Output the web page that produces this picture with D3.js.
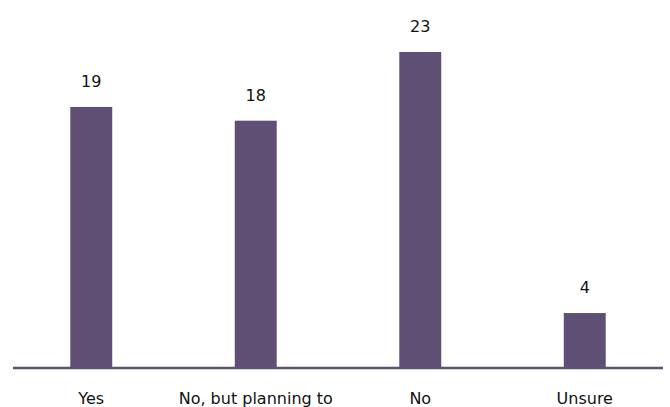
<!DOCTYPE html>
<html>
<head>
<meta charset="utf-8">
<script src="https://cdn.jsdelivr.net/npm/d3@7"></script>
<style>
  html, body { margin: 0; padding: 0; background: #ffffff; }
  svg { display: block; }
  text { font-family: "DejaVu Sans", sans-serif; fill: #111111; }
</style>
</head>
<body>
<script>
// Survey responses
const categories = ["Yes", "No, but planning to", "No", "Unsure"];
const counts = [19, 18, 23, 4];

const width = 670, height = 407;
const barColor = "#5f4f74";

const svg = d3.select("body").append("svg")
  .attr("width", width)
  .attr("height", height);

const x = d3.scaleBand()
  .domain(categories)
  .range([9, 667])
  .paddingInner(0.745)
  .paddingOuter(0.3725);

const y = d3.scaleLinear()
  .domain([0, 25])
  .range([368, 24.5]);

const data = categories.map((c, i) => ({ category: c, value: counts[i] }));

// Bars
svg.append("g")
  .selectAll("rect")
  .data(data)
  .join("rect")
  .attr("x", d => x(d.category))
  .attr("y", d => y(d.value))
  .attr("width", x.bandwidth())
  .attr("height", d => y(0) - y(d.value))
  .attr("fill", barColor);

// Value labels above bars
svg.append("g")
  .selectAll("text")
  .data(data)
  .join("text")
  .attr("x", d => x(d.category) + x.bandwidth() / 2)
  .attr("y", d => y(d.value) - 20)
  .attr("text-anchor", "middle")
  .attr("font-size", 16)
  .text(d => d.value);

// Baseline
svg.append("line")
  .attr("x1", 13)
  .attr("x2", 663)
  .attr("y1", y(0))
  .attr("y2", y(0))
  .attr("stroke", barColor)
  .attr("stroke-width", 2.5);

// Category axis
const axis = d3.axisBottom(x).tickSize(0).tickPadding(0);
const gx = svg.append("g")
  .attr("transform", `translate(0,${y(0)})`)
  .call(axis);
gx.select(".domain").remove();
gx.selectAll(".tick text")
  .attr("y", 36)
  .attr("dy", 0)
  .attr("font-size", 16)
  .attr("font-family", "DejaVu Sans, sans-serif")
  .attr("fill", "#111111");
</script>
</body>
</html>
